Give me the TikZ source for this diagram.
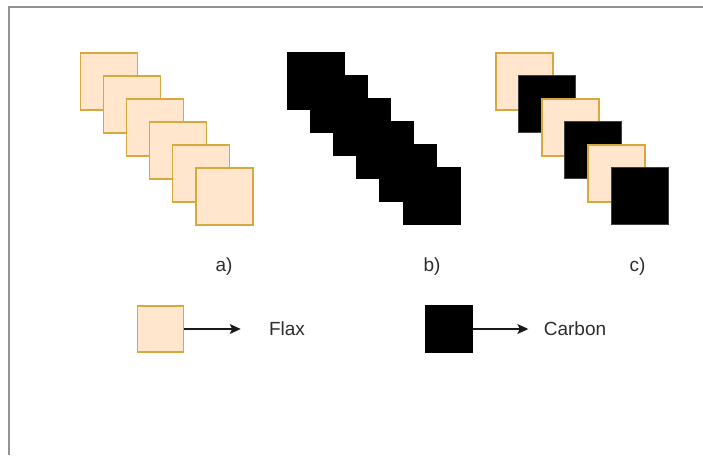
\documentclass[tikz,border=0pt]{standalone}
\usepackage{fontspec}
\setmainfont{Liberation Sans}
\usetikzlibrary{arrows.meta}
\definecolor{flaxfill}{RGB}{255,230,204}
\definecolor{flaxline}{RGB}{214,168,62}
\definecolor{txt}{RGB}{45,45,45}
\begin{document}
\begin{tikzpicture}[x=1pt,y=-1pt,
  flaxsq/.style={draw=flaxline,fill=flaxfill,line width=1.5pt,minimum size=57pt,inner sep=0pt,anchor=north west},
  carbsq/.style={draw=black,fill=black,line width=1pt,minimum size=57pt,inner sep=0pt,anchor=north west},
  lab/.style={font=\fontsize{19}{22}\selectfont,text=txt,inner sep=0pt},
  arr/.style={-{Stealth[length=11pt,width=10pt,inset=2.5pt]},line width=1.3pt,black!90}]
\useasboundingbox (0,0) rectangle (703,455);
\fill[white] (0,0) rectangle (703,455);
\draw[gray!85,line width=1.6pt] (9,455) -- (9,7) -- (703,7);
% group a
\foreach \i in {0,...,5}{
  \node[flaxsq] (a\i) at ({79.5+23.1*\i},{52+23*\i}) {};
}
% group b
\foreach \i in {0,...,5}{
  \node[carbsq] (b\i) at ({287+23.1*\i},{51.5+23*\i}) {};
}
% group c
\node[flaxsq] (c0) at (495,52) {};
\node[carbsq,draw=black!75] (c1) at ({495+23.1},{52+23}) {};
\node[flaxsq] (c2) at ({495+2*23.1},{52+2*23}) {};
\node[carbsq,draw=black!75] (c3) at ({495+3*23.1},{52+3*23}) {};
\node[flaxsq] (c4) at ({495+4*23.1},{52+4*23}) {};
\node[carbsq,draw=black!75] (c5) at ({495+5*23.1},{52+5*23}) {};
% labels
\node[lab] (la) at (224,267) {a)};
\node[lab] (lb) at (432,267) {b)};
\node[lab] (lcc) at (637.5,267) {c)};
% legend
\node[flaxsq,minimum size=46pt,anchor=center] (lf) at (160.7,329) {};
\coordinate (lfend) at (240.7,329);
\draw[arr] (lf.east) -- (lfend);
\node[lab] (tf) at (287,329) {Flax};
\node[carbsq,minimum size=46.5pt,anchor=center] (lk) at (449,329) {};
\coordinate (lkend) at (528.3,329);
\draw[arr] (lk.east) -- (lkend);
\node[lab] (tc) at (575,329) {Carbon};
\end{tikzpicture}
\end{document}
